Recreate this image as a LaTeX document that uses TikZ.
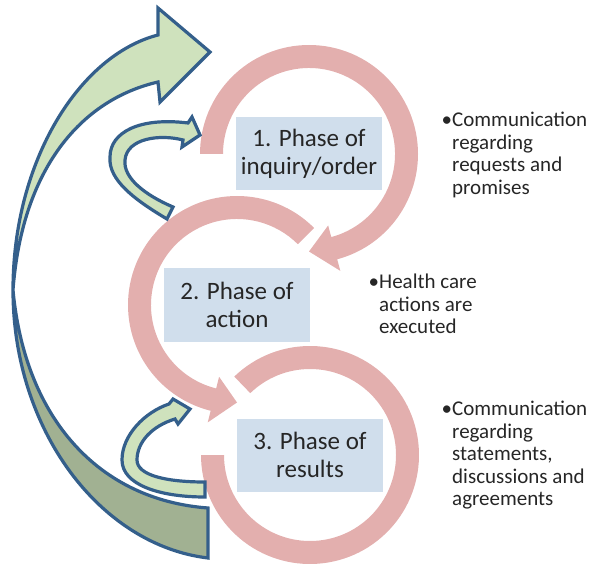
\documentclass[tikz,border=0pt]{standalone}
\usepackage{fontspec}
\setmainfont{Carlito}
\usetikzlibrary{positioning}
\definecolor{ringpink}{RGB}{227,175,174}
\definecolor{boxblue}{RGB}{208,222,236}
\definecolor{lightgreen}{RGB}{207,226,189}
\definecolor{darkgreen}{RGB}{161,177,146}
\definecolor{edgeblue}{RGB}{52,95,139}
\definecolor{textgray}{RGB}{38,38,38}

\begin{document}
\begin{tikzpicture}[x=1pt,y=1pt,
  ring/.style={fill=ringpink},
  phase/.style={fill=boxblue,minimum width=146pt,minimum height=73pt,inner sep=0pt,
    align=center,text=textgray,font=\fontsize{25}{28}\selectfont},
  note/.style={anchor=north west,align=left,inner sep=0pt,text=textgray,
    font=\fontsize{21}{22.5}\selectfont},
  front/.style={fill=lightgreen,draw=edgeblue,line width=3.2pt},
  back/.style={fill=darkgreen,draw=edgeblue,line width=3.2pt}]
  \useasboundingbox (0,0) rectangle (593,565);

  \coordinate (c1) at (309,411);
  \coordinate (c2) at (237,260);
  \coordinate (c3) at (310,110);

  % ---------------- circular arrows of the three phases
  \begin{scope}[shift={(c1)}]
    \fill[ring] (180:109) arc[start angle=180,end angle=-75,radius=109]
      -- (-75:121) -- (-90:97.5) -- (-75:74) -- (-75:86)
      arc[start angle=-75,end angle=180,radius=86] -- cycle;
  \end{scope}
  \begin{scope}[shift={(c2)}]
    \fill[ring] (45:109) arc[start angle=45,end angle=256,radius=109]
      -- (256:121) -- (270:97.5) -- (256:74) -- (256:86)
      arc[start angle=256,end angle=45,radius=86] -- cycle;
  \end{scope}
  \begin{scope}[shift={(c3)}]
    \fill[ring] (134:109) arc[start angle=134,end angle=-180,radius=109]
      -- (-180:86) arc[start angle=-180,end angle=134,radius=86] -- cycle;
  \end{scope}

  % ---------------- phase labels
  \node[phase] (p1) at (c1) {1. Phase of\\inquiry/order};
  \node[phase] (p2) at (c2) {2. Phase of\\action};
  \node[phase] (p3) at (c3) {3. Phase of\\results};

  % ---------------- notes on the right
  \node[note] (n1) at (452,453) {\llap{•}Communication\\regarding\\requests and\\promises};
  \node[note] (n2) at (379,291) {\llap{•}Health care\\actions are\\executed};
  \node[note] (n3) at (452,164) {\llap{•}Communication\\regarding\\statements,\\discussions and\\agreements};

  % ---------------- big curved arrow back to the start
  \draw[back] (13,275) .. controls (13,135) and (100,20) .. (208,7)
    -- (208,57) .. controls (100,65) and (25,145) .. (13,275) -- cycle;
  \draw[front] (13,275) .. controls (13,405) and (80,510) .. (158,530)
    -- (158,557) -- (210,513) -- (160,463) -- (158,483)
    .. controls (80,465) and (22,395) .. (13,275) -- cycle;

  % ---------------- small curved arrows into phase 1 and phase 3
  \draw[front] (167,346) .. controls (135,365) and (108,385) .. (110,408)
    .. controls (110,433) and (140,448) .. (188,442)
    -- (192,448) -- (200,430) -- (182,418) -- (183,425)
    .. controls (160,431) and (127,427) .. (125,405)
    .. controls (123,387) and (145,370) .. (173,358) -- cycle;
  \draw[front] (205,68) .. controls (160,68) and (122,80) .. (122,105)
    .. controls (122,130) and (145,153) .. (169,161)
    -- (173,166) -- (190,156) -- (178,141) -- (175,146)
    .. controls (152,139) and (137,123) .. (137,105)
    .. controls (137,90) and (165,83) .. (205,83) -- cycle;
\end{tikzpicture}
\end{document}
